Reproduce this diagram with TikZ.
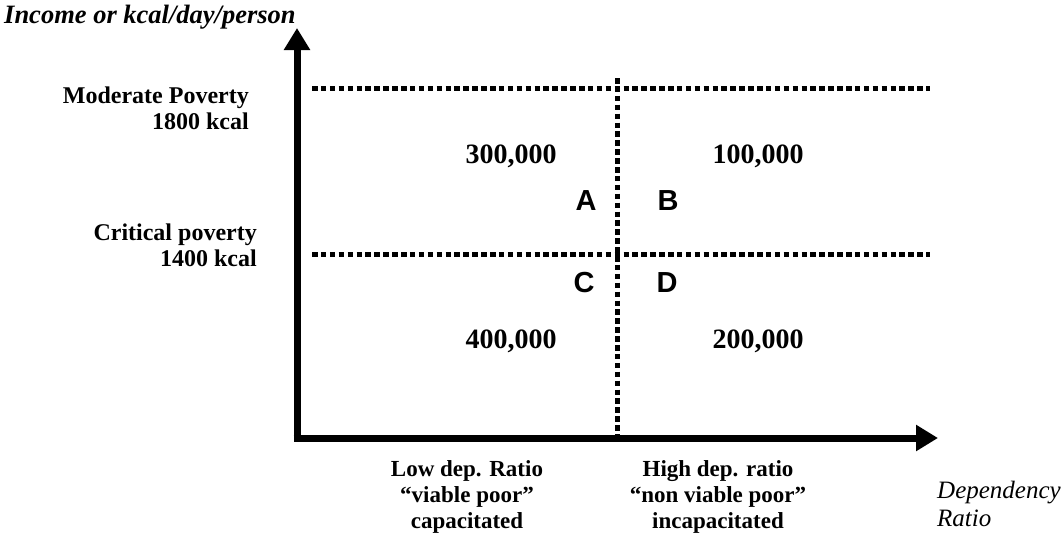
\documentclass[tikz,border=0pt]{standalone}
\usepackage{fontspec}
\setmainfont{Liberation Serif}
\newfontfamily\arialfont{Liberation Sans}
\usetikzlibrary{arrows.meta}
\begin{document}
\begin{tikzpicture}[x=1pt,y=-1pt,
  axis/.style={line width=7pt,-{Triangle[length=22pt,width=25pt]}},
  grid/.style={line width=5pt,dash pattern=on 5.5pt off 3.4pt},
  lbl/.style={font=\fontsize{24}{25.5}\selectfont\bfseries,inner sep=0pt,align=right},
  num/.style={font=\fontsize{28}{30}\selectfont\bfseries,inner sep=0pt},
  let/.style={font=\fontsize{29}{30}\selectfont\arialfont\bfseries,inner sep=0pt},
  bot/.style={font=\fontsize{23}{26}\selectfont\bfseries,inner sep=0pt,align=center},
  ital/.style={font=\fontsize{25}{28}\selectfont\itshape,inner sep=0pt,align=left}]
\useasboundingbox (0,0) rectangle (1062,533);
\coordinate (O) at (297,438);
\coordinate (ytip) at (297,28);
\coordinate (xtip) at (938,438);
\coordinate (vtop) at (617,78);
\coordinate (vbot) at (617,438);
\coordinate (h1l) at (312,88);
\coordinate (h1r) at (930,88);
\coordinate (h2l) at (312,254);
\coordinate (h2r) at (930,254);
\draw[grid] (vtop) -- (vbot);
\draw[grid] (h1l) -- (h1r);
\draw[grid] (h2l) -- (h2r);
\draw[axis] ([yshift=3.5pt]O) -- (ytip);
\draw[axis] ([xshift=-3.5pt]O) -- (xtip);
\node[font=\fontsize{26.5}{28}\selectfont\bfseries\itshape,inner sep=0pt,anchor=base west] (ylab) at (4,23) {Income or kcal/day/person};
\node[lbl,anchor=base east] (mod) at (249,129) {Moderate Poverty\\1800 kcal};
\node[lbl,anchor=base east] (crit) at (257,266) {Critical poverty\\1400 kcal};
\node[num] (n300) at (511,156) {300,000};
\node[num] (n100) at (758,156) {100,000};
\node[num] (n400) at (511,341) {400,000};
\node[num] (n200) at (758,341) {200,000};
\node[let] (A) at (586,201) {A};
\node[let] (B) at (668,201) {B};
\node[let] (C) at (584,283) {C};
\node[let] (D) at (667,283) {D};
\node[bot,anchor=base] (low) at (467,528) {Low dep. Ratio\\``viable poor''\\capacitated};
\node[bot,anchor=base] (high) at (718,528) {High dep. ratio\\``non viable poor''\\incapacitated};
\node[ital,anchor=base west] (dep) at (937,526) {Dependency\\Ratio};
\end{tikzpicture}
\end{document}
